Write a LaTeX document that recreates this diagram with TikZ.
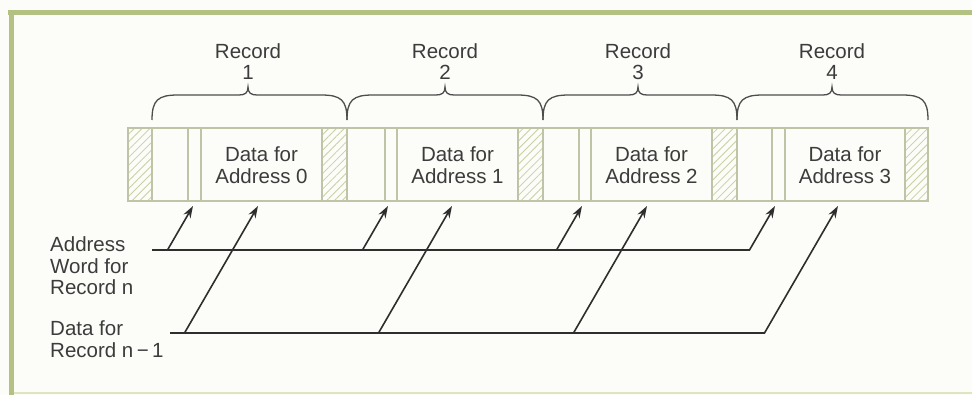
\documentclass[tikz,border=0pt]{standalone}
\usepackage{fontspec}
\setmainfont{Liberation Sans}
\usetikzlibrary{arrows.meta,patterns.meta}
\definecolor{framegreen}{HTML}{B3C283}
\definecolor{framelight}{HTML}{DDE5C2}
\definecolor{stripline}{HTML}{BFC4A6}
\definecolor{hatchcol}{HTML}{C9D0A4}
\definecolor{inkcol}{HTML}{2E2E2E}
\definecolor{textcol}{HTML}{3C3C3C}
\definecolor{bgcol}{HTML}{FCFCF8}
\tikzset{
  lbl/.style={inner sep=0pt, text=textcol, font=\fontsize{20.5}{21.5}\selectfont, align=center},
  leftlbl/.style={lbl, align=left, anchor=west},
  cell/.style={draw=stripline, line width=1.2pt},
  hatchcell/.style={cell, pattern={Lines[angle=45,distance=5.5pt,line width=0.8pt]}, pattern color=hatchcol},
  brace/.style={draw=inkcol!85, line width=1.3pt},
  wire/.style={draw=inkcol, line width=1.6pt},
  arr/.style={wire, -{Stealth[length=12pt,width=8pt]}}
}
\begin{document}
\begin{tikzpicture}[x=1pt,y=-1pt]
\useasboundingbox (0,0) rectangle (972,395);
\fill[bgcol] (0,0) rectangle (972,395);
% frame
\draw[framegreen, line width=5pt] (8,12.5) -- (972,12.5);
\draw[framegreen, line width=5pt] (11.5,10) -- (11.5,395);
\draw[framelight, line width=2pt] (14,392.5) -- (972,392.5);

% strip cells
\path[hatchcell] (128,128) rectangle (152,201);
% record 1
\path[cell] (152,128) rectangle (188,201);
\path[cell] (188,128) rectangle (201,201);
\path[cell] (201,128) rectangle (322,201);
\path[hatchcell] (322,128) rectangle (347,201);
% record 2
\path[cell] (347,128) rectangle (385,201);
\path[cell] (385,128) rectangle (397,201);
\path[cell] (397,128) rectangle (518,201);
\path[hatchcell] (518,128) rectangle (543,201);
% record 3
\path[cell] (543,128) rectangle (579,201);
\path[cell] (579,128) rectangle (591,201);
\path[cell] (591,128) rectangle (712,201);
\path[hatchcell] (712,128) rectangle (737,201);
% record 4
\path[cell] (737,128) rectangle (772,201);
\path[cell] (772,128) rectangle (785,201);
\path[cell] (785,128) rectangle (905,201);
\path[hatchcell] (905,128) rectangle (928,201);

% data texts
\node[lbl] (d0) at (261.5,165) {Data for\\Address 0};
\node[lbl] (d1) at (457.5,165) {Data for\\Address 1};
\node[lbl] (d2) at (651.5,165) {Data for\\Address 2};
\node[lbl] (d3) at (845,165) {Data for\\Address 3};

% braces and record labels
\foreach \a/\c/\b/\n in {152/248/347/1, 347/445/543/2, 543/638/737/3, 737/832/928/4}{
  \path[brace] (\a,120) .. controls (\a,100) and (\a+6,95) .. (\a+26,95)
     -- (\c-9,95) .. controls (\c-3,95) and (\c,93) .. (\c,87)
     .. controls (\c,93) and (\c+3,95) .. (\c+9,95)
     -- (\b-26,95) .. controls (\b-6,95) and (\b,100) .. (\b,120);
  \node[lbl] (r\n) at (\c,61.5) {Record\\\n};
}

% left labels
\node[leftlbl] (addr) at (50,266) {Address\\Word for\\Record n};
\node[leftlbl] (dat) at (50,339) {Data for\\Record n\,−\,1};

% address word line
\coordinate (aL) at (152,250);
\coordinate (aC) at (749.5,250);
\coordinate (at4) at (775,206);
\draw[arr] (aL) -- (aC) -- (at4);
\foreach \s/\t in {167.5/193, 362.5/388, 556.5/582}{
  \draw[arr] (\s,250) -- (\t,206);
}

% data line
\coordinate (dL) at (170,333);
\coordinate (dC) at (764.5,333);
\coordinate (dt4) at (838,206);
\draw[arr] (dL) -- (dC) -- (dt4);
\foreach \s/\t in {184.5/258, 378.5/452, 573.5/647}{
  \draw[arr] (\s,333) -- (\t,206);
}
\end{tikzpicture}
\end{document}
